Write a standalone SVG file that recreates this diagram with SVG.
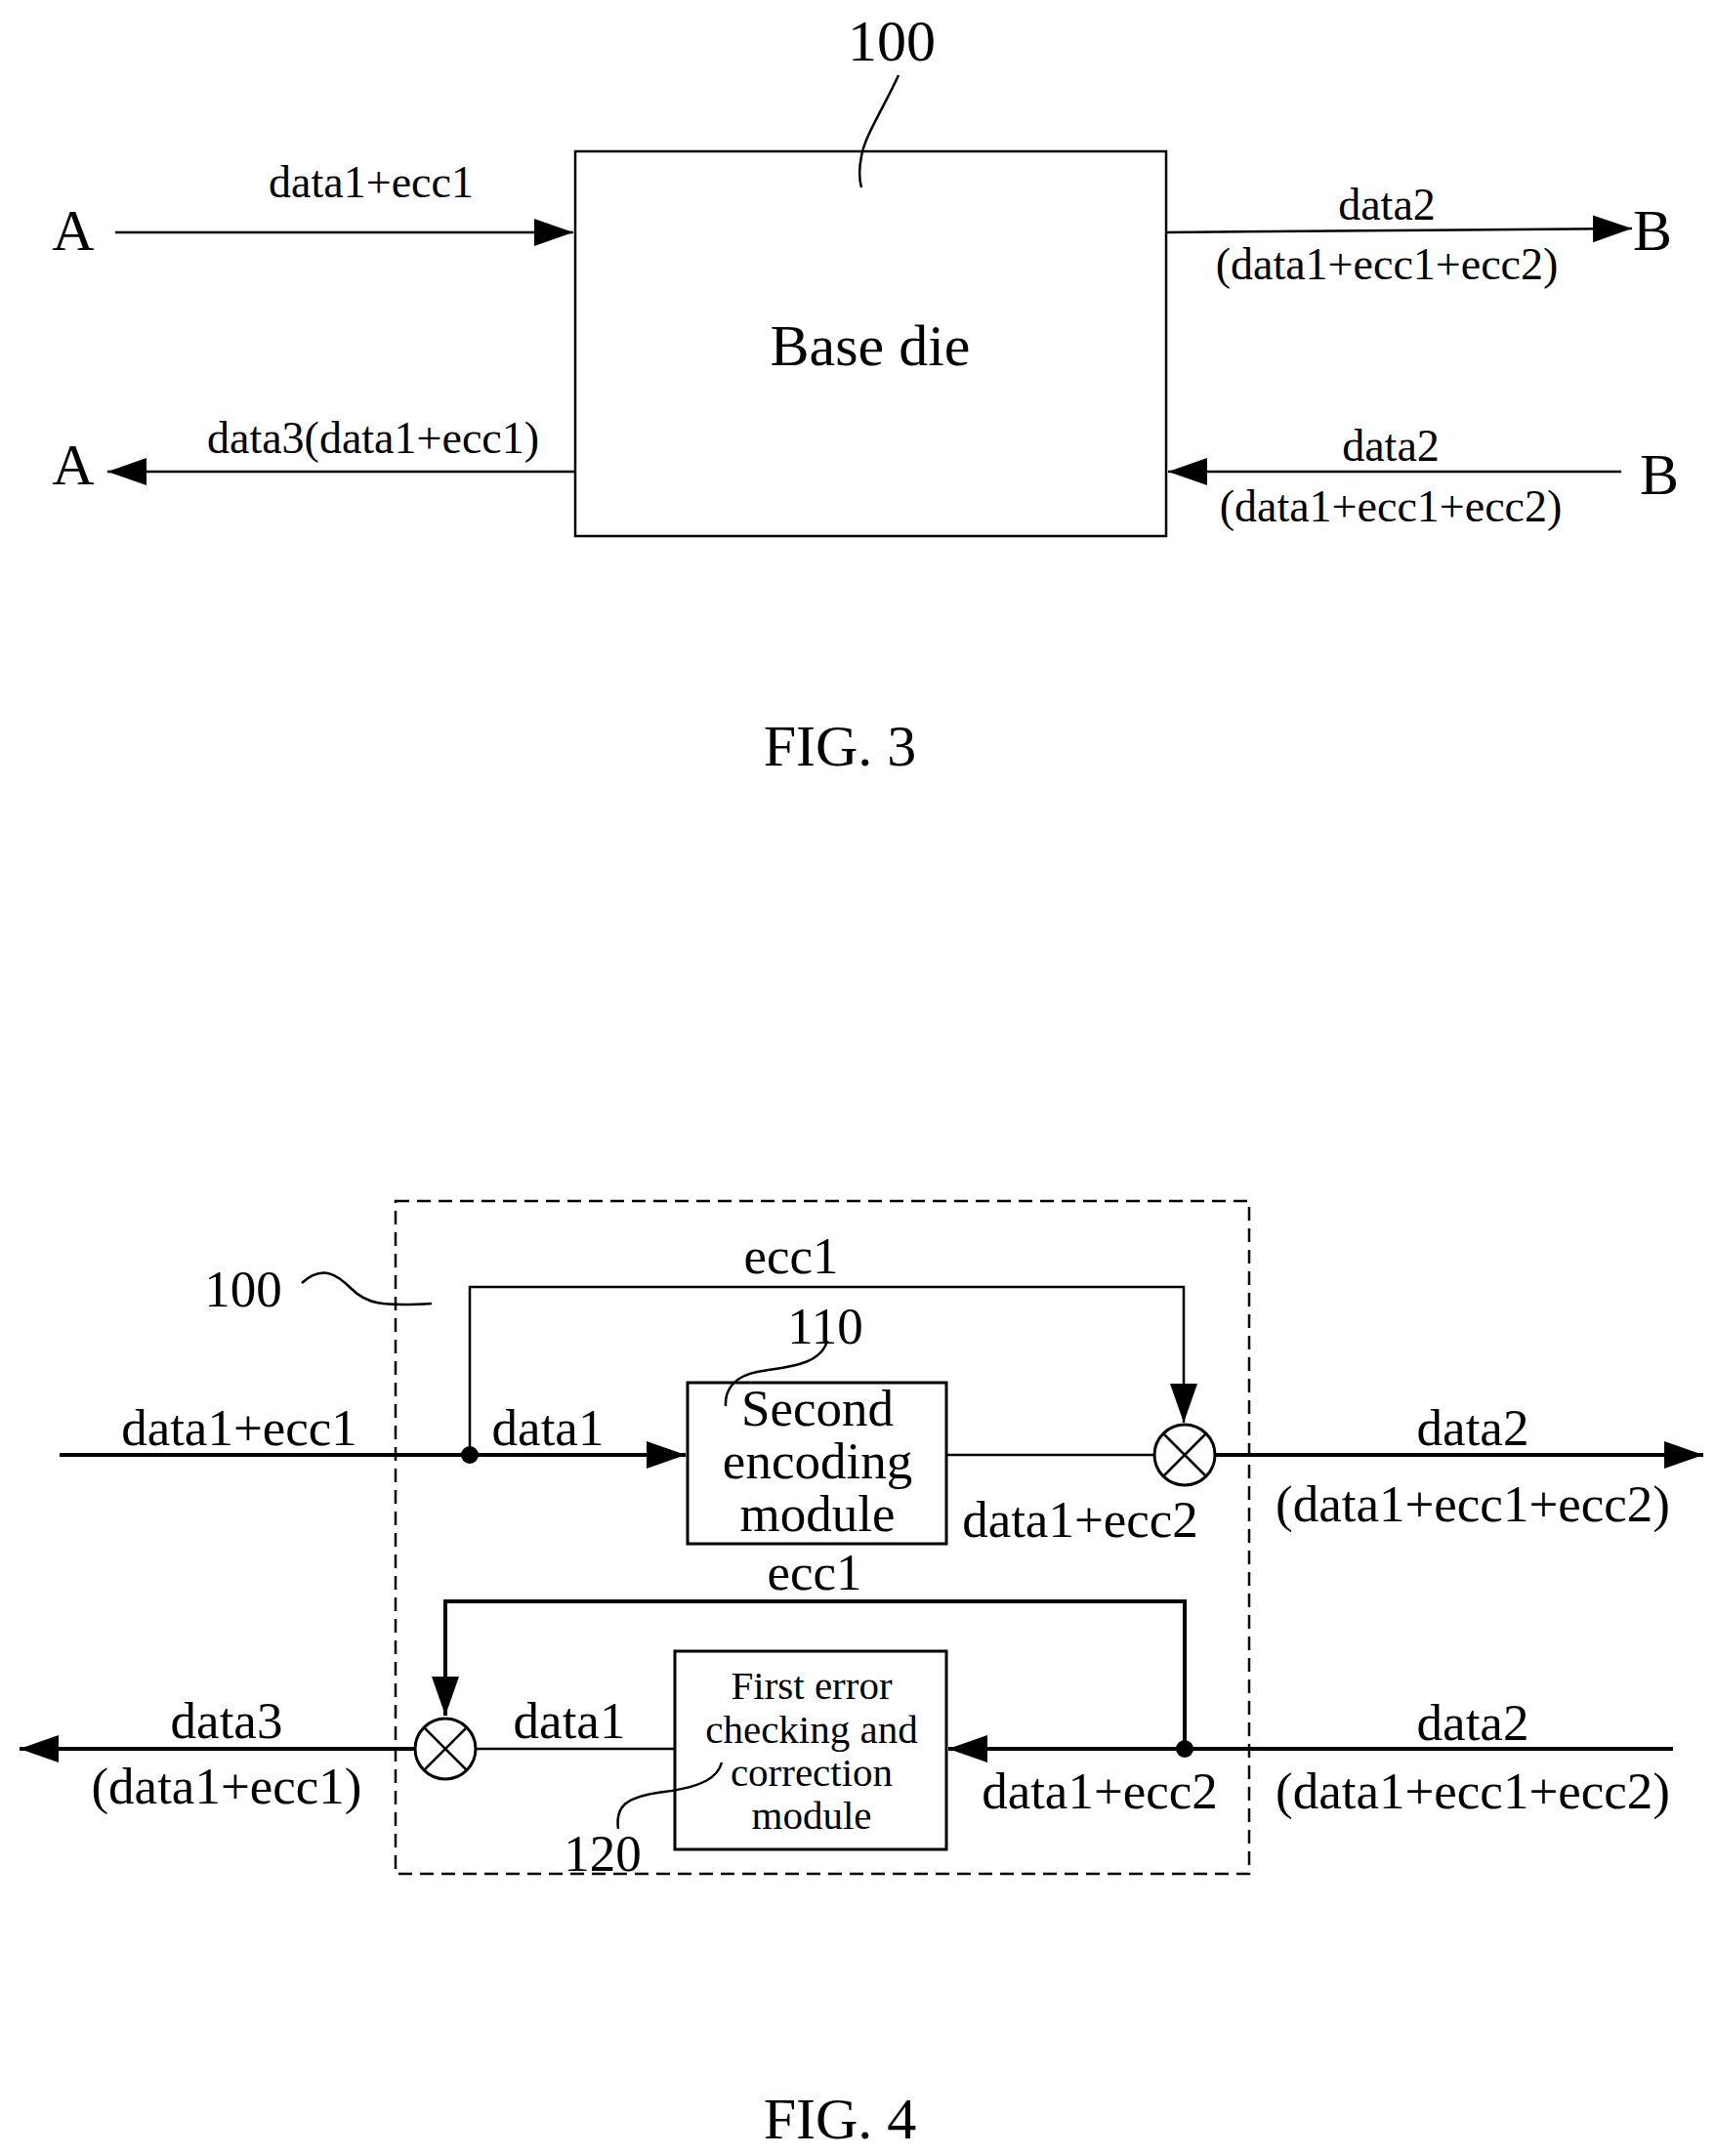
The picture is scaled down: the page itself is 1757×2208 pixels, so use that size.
<svg xmlns="http://www.w3.org/2000/svg" width="1757" height="2208" viewBox="0 0 1757 2208">
<style>
text{font-family:"Liberation Serif",serif;fill:#000;text-anchor:middle}
.s{font-size:46px}.m{font-size:53px}.l{font-size:60px}.b{font-size:41px}
.ln{stroke:#000;stroke-width:2.5;fill:none}
.tk{stroke:#000;stroke-width:4;fill:none}
</style>
<defs>
<marker id="ab2" viewBox="0 0 10 10" refX="10" refY="5" markerWidth="40" markerHeight="40" markerUnits="userSpaceOnUse" orient="auto"><path d="M0,1.5 L10,5 L0,8.5 z"/></marker>
</defs>
<g id="connectors">
<path class="ln" d="M118,238 H587" marker-end="url(#ab2)"/>
<path class="ln" d="M589,483 H110" marker-end="url(#ab2)"/>
<path class="ln" d="M1194,238 L1671,234" marker-end="url(#ab2)"/>
<path class="ln" d="M1660,483 H1196" marker-end="url(#ab2)"/>
<path class="tk" d="M61,1490 H702" marker-end="url(#ab2)"/>
<path class="ln" d="M481,1490 V1318 H1212 V1457" marker-end="url(#ab2)"/>
<path class="ln" d="M969,1490 H1182"/>
<path class="tk" d="M1244,1490 H1744" marker-end="url(#ab2)"/>
<path class="tk" d="M1713,1791 H971" marker-end="url(#ab2)"/>
<path class="tk" d="M1213,1791 V1640 H456 V1757" marker-end="url(#ab2)"/>
<path class="ln" d="M691,1791 H487"/>
<path class="tk" d="M425,1791 H20" marker-end="url(#ab2)"/>
</g>
<g id="fig3-box"><rect x="589" y="155" width="605" height="394" fill="none" stroke="#000" stroke-width="2.5"/><text class="l" x="891" y="374">Base die</text></g>
<g id="fig3-labels">
<text class="l" x="913" y="62">100</text>
<text class="l" x="75" y="256">A</text>
<text class="l" x="75" y="496">A</text>
<text class="l" x="1692" y="256">B</text>
<text class="l" x="1699" y="506">B</text>
<text class="s" x="380" y="202">data1+ecc1</text>
<text class="s" x="382" y="464">data3(data1+ecc1)</text>
<text class="s" x="1420" y="225">data2</text>
<text class="s" x="1420" y="286">(data1+ecc1+ecc2)</text>
<text class="s" x="1424" y="472">data2</text>
<text class="s" x="1424" y="534">(data1+ecc1+ecc2)</text>
<text class="l" x="860" y="784">FIG. 3</text>
</g>
<g id="fig4-frame"><rect x="405" y="1230" width="874" height="689" fill="none" stroke="#000" stroke-width="2.5" stroke-dasharray="14,8"/></g>
<g id="node110"><rect x="704" y="1416" width="265" height="165" fill="#fff" stroke="#000" stroke-width="3"/>
<text class="m" x="837" y="1460">Second</text><text class="m" x="837" y="1514">encoding</text><text class="m" x="837" y="1568">module</text></g>
<g id="node120"><rect x="691" y="1691" width="278" height="203" fill="#fff" stroke="#000" stroke-width="3"/>
<text class="b" x="831" y="1740">First error</text><text class="b" x="831" y="1785">checking and</text><text class="b" x="831" y="1829">correction</text><text class="b" x="831" y="1873">module</text></g>
<g id="xor1"><circle cx="1213" cy="1490" r="31" fill="#fff" stroke="#000" stroke-width="3"/><path class="ln" d="M1191,1468 L1235,1512 M1235,1468 L1191,1512"/></g>
<g id="xor2"><circle cx="456" cy="1791" r="31" fill="#fff" stroke="#000" stroke-width="3"/><path class="ln" d="M434,1769 L478,1813 M478,1769 L434,1813"/></g>
<g id="dots"><circle cx="481" cy="1490" r="9"/><circle cx="1213" cy="1791" r="9"/></g>
<g id="leaders">
<path class="ln" d="M920,77 C905,110 885,140 882,160 C879,175 880,185 882,192"/>
<path class="ln" d="M309,1314 C330,1295 345,1305 360,1320 C375,1335 390,1338 442,1335"/>
<path class="ln" d="M847,1373 C840,1400 800,1400 775,1405 C750,1410 742,1425 743,1440"/>
<path class="ln" d="M633,1873 C630,1850 640,1840 680,1835 C720,1830 735,1820 739,1805"/>
</g>
<g id="fig4-labels">
<text class="m" x="249" y="1338">100</text>
<text class="m" x="845" y="1376">110</text>
<text class="m" x="617" y="1916">120</text>
<text class="m" x="810" y="1304">ecc1</text>
<text class="m" x="834" y="1628">ecc1</text>
<text class="m" x="245" y="1480">data1+ecc1</text>
<text class="m" x="561" y="1480">data1</text>
<text class="m" x="1106" y="1574">data1+ecc2</text>
<text class="m" x="1508" y="1480">data2</text>
<text class="m" x="1508" y="1558">(data1+ecc1+ecc2)</text>
<text class="m" x="583" y="1780">data1</text>
<text class="m" x="1126" y="1852">data1+ecc2</text>
<text class="m" x="1508" y="1782">data2</text>
<text class="m" x="1508" y="1852">(data1+ecc1+ecc2)</text>
<text class="m" x="232" y="1780">data3</text>
<text class="m" x="232" y="1847">(data1+ecc1)</text>
<text class="l" x="860" y="2190">FIG. 4</text>
</g>
</svg>
